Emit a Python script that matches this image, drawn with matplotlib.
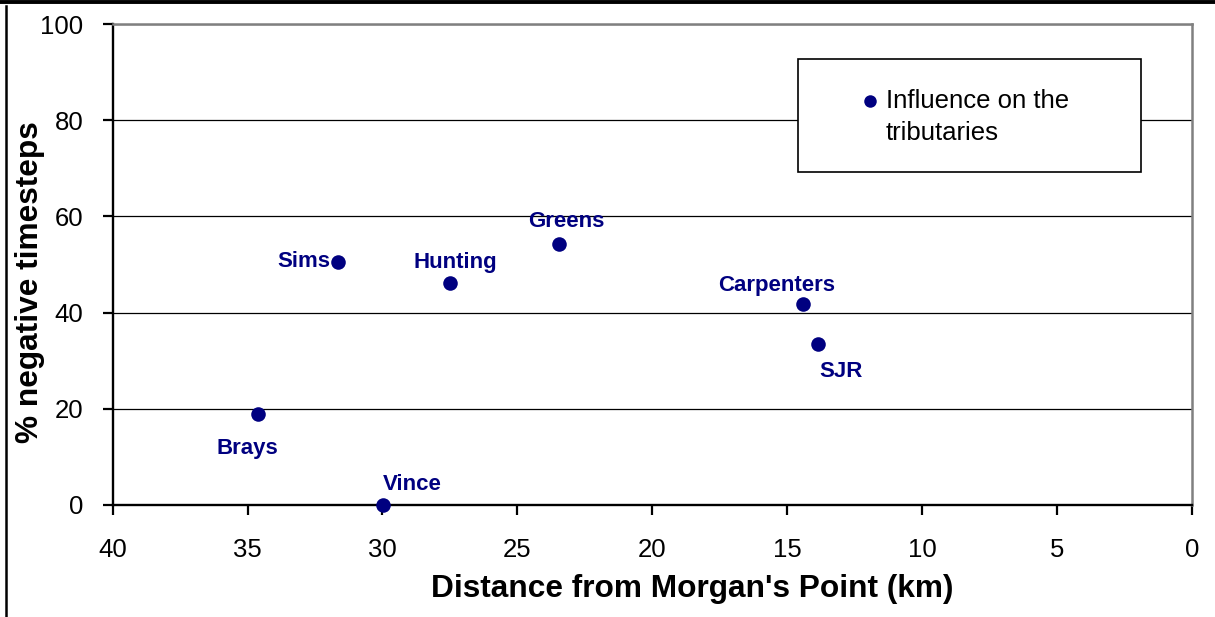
import matplotlib
matplotlib.use("Agg")
import matplotlib.pyplot as plt
from matplotlib.lines import Line2D
from matplotlib.patches import Rectangle

names = ["Brays", "Vince", "Sims", "Hunting", "Greens", "Carpenters", "SJR"]
distance_km = [34.6, 29.97, 31.64, 27.5, 23.44, 14.42, 13.86]
pct_negative = [18.9, 0.0, 50.5, 46.1, 54.3, 41.7, 33.4]
x_ticks = [40, 35, 30, 25, 20, 15, 10, 5, 0]
y_ticks = [0, 20, 40, 60, 80, 100]
series_label = "Influence on the\ntributaries"

# label offsets (points, to text baseline) and horizontal alignment per point
offsets = {
    "Brays": (-8, -29, "center"),
    "Vince": (20.7, 10.8, "center"),
    "Sims": (-6, -3.2, "right"),
    "Hunting": (4, 10.8, "center"),
    "Greens": (5, 12.2, "center"),
    "Carpenters": (-18.7, 9.6, "center"),
    "SJR": (17, -23.3, "center"),
}

W, H = 1215, 617
navy = "#000080"
FONT = "Liberation Sans"
fig = plt.figure(figsize=(W / 100, H / 100), dpi=100)
ax = fig.add_axes([112.7 / W, 1 - 505 / H, (1191.7 - 112.7) / W, (505 - 24) / H])

ax.scatter(distance_km, pct_negative, s=110, color=navy, zorder=5, clip_on=False,
           linewidths=0)
for n, x, y in zip(names, distance_km, pct_negative):
    dx, dy, ha = offsets[n]
    ax.annotate(n, (x, y), xytext=(dx, dy), textcoords="offset points",
                ha=ha, va="baseline", color=navy, fontsize=16, fontweight="bold",
                family=FONT)

ax.set_xlim(40, 0)
ax.set_ylim(0, 100)
ax.set_xticks(x_ticks)
ax.set_yticks(y_ticks)
ax.set_xticklabels([str(t) for t in x_ticks], family=FONT, fontsize=18.5)
ax.set_yticklabels([str(t) for t in y_ticks], family=FONT, fontsize=18.5)
ax.tick_params(axis="y", length=7.2, width=1.6, pad=14, direction="out")
ax.tick_params(axis="x", length=7.2, width=1.6, pad=16.5, direction="out")
ax.grid(axis="y", color="black", linewidth=0.9)
ax.set_axisbelow(True)

for s in ["left", "bottom"]:
    ax.spines[s].set_color("black")
    ax.spines[s].set_linewidth(1.7)
for s in ["top", "right"]:
    ax.spines[s].set_color("#808080")
    ax.spines[s].set_linewidth(1.8)

ax.set_xlabel("Distance from Morgan's Point (km)", family=FONT,
              fontweight="bold", fontsize=22.8)
ax.set_ylabel("% negative timesteps", family=FONT,
              fontweight="bold", fontsize=22.8)
ax.xaxis.set_label_coords(0.537, -0.1906)
ax.xaxis.label.set_va("baseline")
ax.yaxis.set_label_coords(-0.077, 0.4626)
ax.yaxis.label.set_va("center")

# legend box drawn by hand (frame, marker, text)
fig.add_artist(Rectangle((798 / W, 1 - 172 / H), (1141 - 798) / W, (172 - 59) / H,
                         transform=fig.transFigure, facecolor="white",
                         edgecolor="black", linewidth=1.2, zorder=10))
fig.add_artist(Line2D([870 / W], [1 - 100.7 / H], marker="o", markersize=9,
                      color=navy, markeredgewidth=0, linestyle="none",
                      transform=fig.transFigure, zorder=11))
for i, line in enumerate(series_label.split("\n")):
    fig.text(886 / W, 1 - (108.3 + 31.7 * i) / H, line, family=FONT, fontsize=18.5,
             ha="left", va="baseline", color="black", zorder=11)

fig.add_artist(Line2D([0, 1], [1 - 2 / H, 1 - 2 / H], color="black", linewidth=2.8,
                      transform=fig.transFigure))
fig.add_artist(Line2D([6 / W, 6 / W], [0, 1 - 6 / H], color="black", linewidth=1.8,
                      transform=fig.transFigure))

fig.savefig("out.png", dpi=100)
